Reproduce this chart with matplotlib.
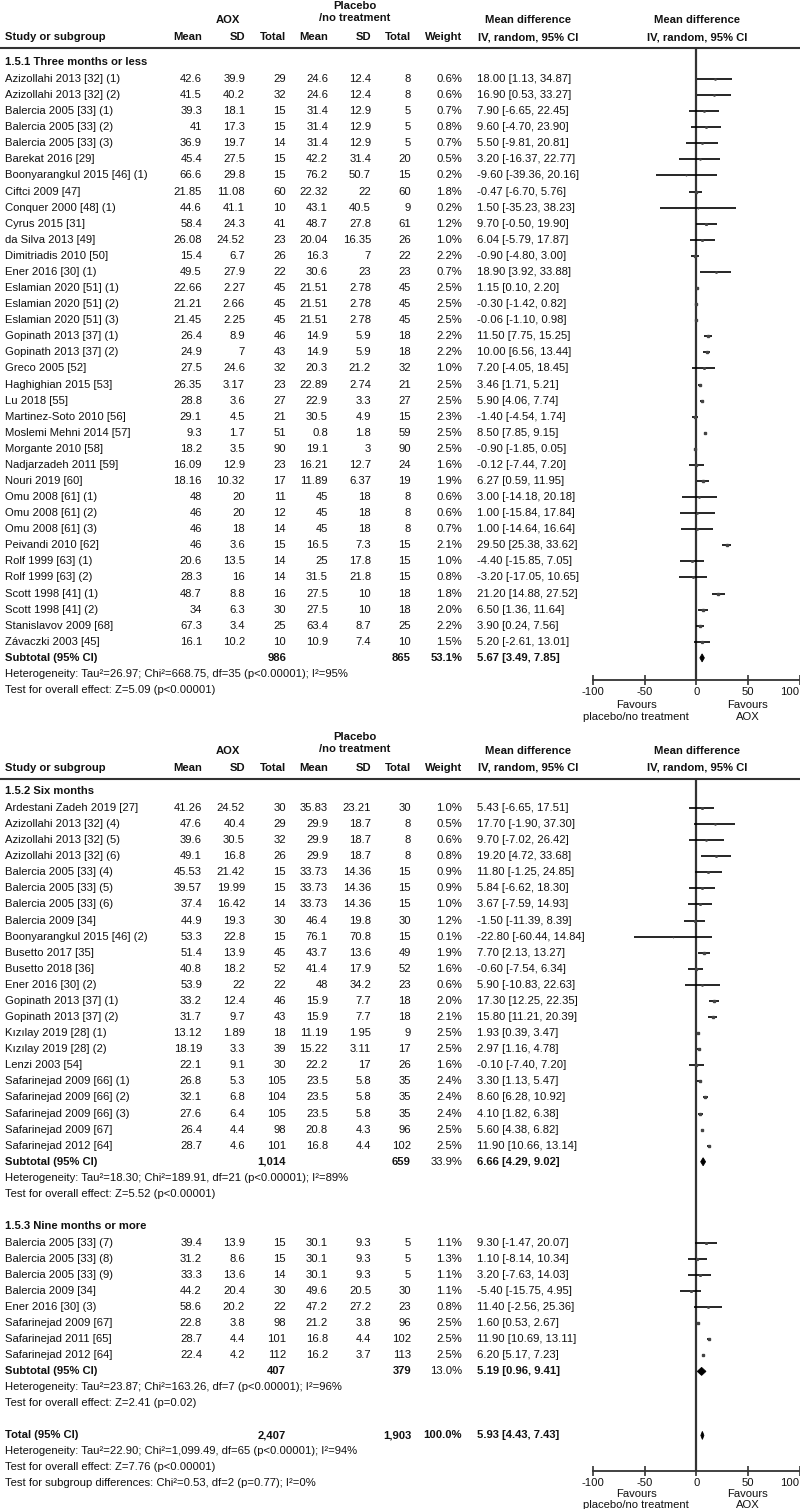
import matplotlib
matplotlib.use("Agg")
import matplotlib.pyplot as plt
from matplotlib.patches import Polygon
from matplotlib.transforms import blended_transform_factory

plt.rcParams['font.family'] = ['Liberation Sans', 'DejaVu Sans']
plt.rcParams['axes.unicode_minus'] = False

# ---- study level data (AOX vs placebo/no treatment) ----
study = [
    "Azizollahi 2013 [32] (1)", "Azizollahi 2013 [32] (2)", "Balercia 2005 [33] (1)",
    "Balercia 2005 [33] (2)", "Balercia 2005 [33] (3)", "Barekat 2016 [29]",
    "Boonyarangkul 2015 [46] (1)", "Ciftci 2009 [47]", "Conquer 2000 [48] (1)",
    "Cyrus 2015 [31]", "da Silva 2013 [49]", "Dimitriadis 2010 [50]", "Ener 2016 [30] (1)",
    "Eslamian 2020 [51] (1)", "Eslamian 2020 [51] (2)", "Eslamian 2020 [51] (3)",
    "Gopinath 2013 [37] (1)", "Gopinath 2013 [37] (2)", "Greco 2005 [52]",
    "Haghighian 2015 [53]", "Lu 2018 [55]", "Martinez-Soto 2010 [56]",
    "Moslemi Mehni 2014 [57]", "Morgante 2010 [58]", "Nadjarzadeh 2011 [59]",
    "Nouri 2019 [60]", "Omu 2008 [61] (1)", "Omu 2008 [61] (2)", "Omu 2008 [61] (3)",
    "Peivandi 2010 [62]", "Rolf 1999 [63] (1)", "Rolf 1999 [63] (2)",
    "Scott 1998 [41] (1)", "Scott 1998 [41] (2)", "Stanislavov 2009 [68]",
    "Závaczki 2003 [45]",
    "Ardestani Zadeh 2019 [27]", "Azizollahi 2013 [32] (4)", "Azizollahi 2013 [32] (5)",
    "Azizollahi 2013 [32] (6)", "Balercia 2005 [33] (4)", "Balercia 2005 [33] (5)",
    "Balercia 2005 [33] (6)", "Balercia 2009 [34]", "Boonyarangkul 2015 [46] (2)",
    "Busetto 2017 [35]", "Busetto 2018 [36]", "Ener 2016 [30] (2)",
    "Gopinath 2013 [37] (1)", "Gopinath 2013 [37] (2)", "Kızılay 2019 [28] (1)",
    "Kızılay 2019 [28] (2)", "Lenzi 2003 [54]", "Safarinejad 2009 [66] (1)",
    "Safarinejad 2009 [66] (2)", "Safarinejad 2009 [66] (3)", "Safarinejad 2009 [67]",
    "Safarinejad 2012 [64]",
    "Balercia 2005 [33] (7)", "Balercia 2005 [33] (8)", "Balercia 2005 [33] (9)",
    "Balercia 2009 [34]", "Ener 2016 [30] (3)", "Safarinejad 2009 [67]",
    "Safarinejad 2011 [65]", "Safarinejad 2012 [64]",
]
group = [0] * 36 + [1] * 22 + [2] * 8

aox_mean = [42.6, 41.5, 39.3, 41, 36.9, 45.4, 66.6, 21.85, 44.6, 58.4, 26.08, 15.4, 49.5,
            22.66, 21.21, 21.45, 26.4, 24.9, 27.5, 26.35, 28.8, 29.1, 9.3, 18.2, 16.09,
            18.16, 48, 46, 46, 46, 20.6, 28.3, 48.7, 34, 67.3, 16.1,
            41.26, 47.6, 39.6, 49.1, 45.53, 39.57, 37.4, 44.9, 53.3, 51.4, 40.8, 53.9,
            33.2, 31.7, 13.12, 18.19, 22.1, 26.8, 32.1, 27.6, 26.4, 28.7,
            39.4, 31.2, 33.3, 44.2, 58.6, 22.8, 28.7, 22.4]
aox_sd = [39.9, 40.2, 18.1, 17.3, 19.7, 27.5, 29.8, 11.08, 41.1, 24.3, 24.52, 6.7, 27.9,
          2.27, 2.66, 2.25, 8.9, 7, 24.6, 3.17, 3.6, 4.5, 1.7, 3.5, 12.9,
          10.32, 20, 20, 18, 3.6, 13.5, 16, 8.8, 6.3, 3.4, 10.2,
          24.52, 40.4, 30.5, 16.8, 21.42, 19.99, 16.42, 19.3, 22.8, 13.9, 18.2, 22,
          12.4, 9.7, 1.89, 3.3, 9.1, 5.3, 6.8, 6.4, 4.4, 4.6,
          13.9, 8.6, 13.6, 20.4, 20.2, 3.8, 4.4, 4.2]
aox_n = [29, 32, 15, 15, 14, 15, 15, 60, 10, 41, 23, 26, 22, 45, 45, 45, 46, 43, 32, 23,
         27, 21, 51, 90, 23, 17, 11, 12, 14, 15, 14, 14, 16, 30, 25, 10,
         30, 29, 32, 26, 15, 15, 14, 30, 15, 45, 52, 22, 46, 43, 18, 39, 30, 105, 104,
         105, 98, 101,
         15, 15, 14, 30, 22, 98, 101, 112]
ctl_mean = [24.6, 24.6, 31.4, 31.4, 31.4, 42.2, 76.2, 22.32, 43.1, 48.7, 20.04, 16.3, 30.6,
            21.51, 21.51, 21.51, 14.9, 14.9, 20.3, 22.89, 22.9, 30.5, 0.8, 19.1, 16.21,
            11.89, 45, 45, 45, 16.5, 25, 31.5, 27.5, 27.5, 63.4, 10.9,
            35.83, 29.9, 29.9, 29.9, 33.73, 33.73, 33.73, 46.4, 76.1, 43.7, 41.4, 48,
            15.9, 15.9, 11.19, 15.22, 22.2, 23.5, 23.5, 23.5, 20.8, 16.8,
            30.1, 30.1, 30.1, 49.6, 47.2, 21.2, 16.8, 16.2]
ctl_sd = [12.4, 12.4, 12.9, 12.9, 12.9, 31.4, 50.7, 22, 40.5, 27.8, 16.35, 7, 23,
          2.78, 2.78, 2.78, 5.9, 5.9, 21.2, 2.74, 3.3, 4.9, 1.8, 3, 12.7,
          6.37, 18, 18, 18, 7.3, 17.8, 21.8, 10, 10, 8.7, 7.4,
          23.21, 18.7, 18.7, 18.7, 14.36, 14.36, 14.36, 19.8, 70.8, 13.6, 17.9, 34.2,
          7.7, 7.7, 1.95, 3.11, 17, 5.8, 5.8, 5.8, 4.3, 4.4,
          9.3, 9.3, 9.3, 20.5, 27.2, 3.8, 4.4, 3.7]
ctl_n = [8, 8, 5, 5, 5, 20, 15, 60, 9, 61, 26, 22, 23, 45, 45, 45, 18, 18, 32, 21,
         27, 15, 59, 90, 24, 19, 8, 8, 8, 15, 15, 15, 18, 18, 25, 10,
         30, 8, 8, 8, 15, 15, 15, 30, 15, 49, 52, 23, 18, 18, 9, 17, 26, 35, 35, 35, 96, 102,
         5, 5, 5, 30, 23, 96, 102, 113]
weight = [0.6, 0.6, 0.7, 0.8, 0.7, 0.5, 0.2, 1.8, 0.2, 1.2, 1.0, 2.2, 0.7, 2.5, 2.5, 2.5,
          2.2, 2.2, 1.0, 2.5, 2.5, 2.3, 2.5, 2.5, 1.6, 1.9, 0.6, 0.6, 0.7, 2.1, 1.0, 0.8,
          1.8, 2.0, 2.2, 1.5,
          1.0, 0.5, 0.6, 0.8, 0.9, 0.9, 1.0, 1.2, 0.1, 1.9, 1.6, 0.6, 2.0, 2.1, 2.5, 2.5,
          1.6, 2.4, 2.4, 2.4, 2.5, 2.5,
          1.1, 1.3, 1.1, 1.1, 0.8, 2.5, 2.5, 2.5]
md = [18.00, 16.90, 7.90, 9.60, 5.50, 3.20, -9.60, -0.47, 1.50, 9.70, 6.04, -0.90, 18.90,
      1.15, -0.30, -0.06, 11.50, 10.00, 7.20, 3.46, 5.90, -1.40, 8.50, -0.90, -0.12,
      6.27, 3.00, 1.00, 1.00, 29.50, -4.40, -3.20, 21.20, 6.50, 3.90, 5.20,
      5.43, 17.70, 9.70, 19.20, 11.80, 5.84, 3.67, -1.50, -22.80, 7.70, -0.60, 5.90,
      17.30, 15.80, 1.93, 2.97, -0.10, 3.30, 8.60, 4.10, 5.60, 11.90,
      9.30, 1.10, 3.20, -5.40, 11.40, 1.60, 11.90, 6.20]
ci_lo = [1.13, 0.53, -6.65, -4.70, -9.81, -16.37, -39.36, -6.70, -35.23, -0.50, -5.79, -4.80,
         3.92, 0.10, -1.42, -1.10, 7.75, 6.56, -4.05, 1.71, 4.06, -4.54, 7.85, -1.85, -7.44,
         0.59, -14.18, -15.84, -14.64, 25.38, -15.85, -17.05, 14.88, 1.36, 0.24, -2.61,
         -6.65, -1.90, -7.02, 4.72, -1.25, -6.62, -7.59, -11.39, -60.44, 2.13, -7.54,
         -10.83, 12.25, 11.21, 0.39, 1.16, -7.40, 1.13, 6.28, 1.82, 4.38, 10.66,
         -1.47, -8.14, -7.63, -15.75, -2.56, 0.53, 10.69, 5.17]
ci_hi = [34.87, 33.27, 22.45, 23.90, 20.81, 22.77, 20.16, 5.76, 38.23, 19.90, 17.87, 3.00,
         33.88, 2.20, 0.82, 0.98, 15.25, 13.44, 18.45, 5.21, 7.74, 1.74, 9.15, 0.05, 7.20,
         11.95, 20.18, 17.84, 16.64, 33.62, 7.05, 10.65, 27.52, 11.64, 7.56, 13.01,
         17.51, 37.30, 26.42, 33.68, 24.85, 18.30, 14.93, 8.39, 14.84, 13.27, 6.34, 22.63,
         22.35, 20.39, 3.47, 4.78, 7.20, 5.47, 10.92, 6.38, 6.82, 13.14,
         20.07, 10.34, 14.03, 4.95, 25.36, 2.67, 13.11, 7.23]

# ---- subgroup / overall results ----
sub_title = ["1.5.1 Three months or less", "1.5.2 Six months", "1.5.3 Nine months or more"]
sub_n_aox = ["986", "1,014", "407"]
sub_n_ctl = ["865", "659", "379"]
sub_weight = [53.1, 33.9, 13.0]
sub_md = [5.67, 6.66, 5.19]
sub_lo = [3.49, 4.29, 0.96]
sub_hi = [7.85, 9.02, 9.41]
sub_het = ["Heterogeneity: Tau²=26.97; Chi²=668.75, df=35 (p<0.00001); I²=95%",
           "Heterogeneity: Tau²=18.30; Chi²=189.91, df=21 (p<0.00001); I²=89%",
           "Heterogeneity: Tau²=23.87; Chi²=163.26, df=7 (p<0.00001); I²=96%"]
sub_test = ["Test for overall effect: Z=5.09 (p<0.00001)",
            "Test for overall effect: Z=5.52 (p<0.00001)",
            "Test for overall effect: Z=2.41 (p=0.02)"]
total_n = ["2,407", "1,903"]
total_weight = 100.0
total_md, total_lo, total_hi = 5.93, 4.43, 7.43
total_notes = ["Heterogeneity: Tau²=22.90; Chi²=1,099.49, df=65 (p<0.00001); I²=94%",
               "Test for overall effect: Z=7.76 (p<0.00001)",
               "Test for subgroup differences: Chi²=0.53, df=2 (p=0.77); I²=0%"]
ticks = [-100, -50, 0, 50, 100]

# ---- layout (pixels) ----
W, H = 800, 1509
FS = 8.1
FS_NOTE = 8.1
STEP = 16.08
TXT = '#111111'
LINE = '#333333'
COL_R = [202, 245, 286, 328, 371, 411, 462]
CI_X = 477
FX0, FX1 = 593, 799.5

fig = plt.figure(figsize=(W / 100, H / 100), dpi=100)
bg = fig.add_axes([0, 0, 1, 1])
bg.set_xlim(0, W)
bg.set_ylim(H, 0)
bg.axis('off')


def txt(x, y, s, ha='left', bold=False, size=FS):
    bg.text(x, y, s, ha=ha, va='center', fontsize=size, color=TXT,
            fontweight='bold' if bold else 'normal')


def header(line_y):
    txt(355, line_y - 42, "Placebo", 'center', True)
    txt(355, line_y - 30, "/no treatment", 'center', True)
    txt(228, line_y - 28, "AOX", 'center', True)
    txt(528, line_y - 28, "Mean difference", 'center', True)
    txt(697, line_y - 28, "Mean difference", 'center', True)
    hy = line_y - 11
    txt(5, hy, "Study or subgroup", bold=True)
    for x, s in zip(COL_R, ["Mean", "SD", "Total", "Mean", "SD", "Total", "Weight"]):
        txt(x, hy, s, 'right', True)
    txt(528, hy, "IV, random, 95% CI", 'center', True)
    txt(697, hy, "IV, random, 95% CI", 'center', True)
    bg.plot([0, W], [line_y, line_y], color=LINE, lw=1.5)


def forest(top, bottom, off1, off2):
    ax = fig.add_axes([FX0 / W, 1 - bottom / H, (FX1 - FX0) / W, (bottom - top) / H])
    ax.patch.set_alpha(0)
    ax.set_xlim(-100, 100)
    ax.set_ylim(bottom, top)
    for s in ['top', 'left', 'right']:
        ax.spines[s].set_visible(False)
    ax.spines['bottom'].set_color(LINE)
    ax.spines['bottom'].set_linewidth(1.3)
    ax.set_yticks([])
    ax.set_xticks(ticks, [str(t) for t in ticks])
    ax.tick_params(axis='x', direction='inout', length=7, width=1.2, color=LINE,
                   labelsize=FS, labelcolor=TXT, pad=1.5)
    ax.get_xticklabels()[-1].set_horizontalalignment('right')
    ax.axvline(0, color=LINE, lw=1.6)
    tr = blended_transform_factory(ax.transData, bg.transData)
    for x, s1, s2 in [(-58, "Favours", "placebo/no treatment"), (50, "Favours", "AOX")]:
        bg.text(x, bottom + off1, s1, transform=tr, ha='center', va='center',
                fontsize=FS, color=TXT)
        bg.text(x, bottom + off2, s2, transform=tr, ha='center', va='center',
                fontsize=FS, color=TXT)
    return ax


def fmt(v):
    return f"{v:g}"


def study_row(ax, i, y):
    txt(5, y, study[i])
    vals = [fmt(aox_mean[i]), fmt(aox_sd[i]), str(aox_n[i]), fmt(ctl_mean[i]),
            fmt(ctl_sd[i]), str(ctl_n[i]), f"{weight[i]:.1f}%"]
    for x, s in zip(COL_R, vals):
        txt(x, y, s, 'right')
    txt(CI_X, y, f"{md[i]:.2f} [{ci_lo[i]:.2f}, {ci_hi[i]:.2f}]")
    ax.plot([ci_lo[i], ci_hi[i]], [y, y], color='black', lw=1.2, solid_capstyle='butt')
    ax.plot([md[i]], [y], marker='s', color='#444444', ms=1.1 * weight[i] ** 0.5, lw=0)


def pooled_row(ax, y, label, n1, n2, w, m, lo, hi, bold_w):
    txt(5, y, label, bold=True)
    txt(COL_R[2], y, n1, 'right', True)
    txt(COL_R[5], y, n2, 'right', True)
    txt(COL_R[6], y, f"{w:.1f}%", 'right', bold_w)
    txt(CI_X, y, f"{m:.2f} [{lo:.2f}, {hi:.2f}]", bold=True)
    ax.add_patch(Polygon([(lo, y), (m, y - 4), (hi, y), (m, y + 4)], closed=True,
                         facecolor='black', edgecolor='black', lw=0.6))


def subgroup(ax, g, title_y, bold_w):
    txt(5, title_y, sub_title[g], bold=True)
    y = title_y + 17
    idx = [i for i in range(len(study)) if group[i] == g]
    for k, i in enumerate(idx):
        study_row(ax, i, y + k * STEP)
    y = y + len(idx) * STEP
    pooled_row(ax, y, "Subtotal (95% CI)", sub_n_aox[g], sub_n_ctl[g], sub_weight[g],
               sub_md[g], sub_lo[g], sub_hi[g], bold_w)
    txt(5, y + 16, sub_het[g], size=FS_NOTE)
    txt(5, y + 32, sub_test[g], size=FS_NOTE)
    return y + 32


# ---- panel 1 ----
header(48)
ax1 = forest(48, 680, 25, 37)
subgroup(ax1, 0, 62, True)

# ---- panel 2 ----
header(779)
ax2 = forest(779, 1471, 23, 34)
end = subgroup(ax2, 1, 791, False)
end = subgroup(ax2, 2, end + 32, False)
ty = end + 32
pooled_row(ax2, ty, "Total (95% CI)", total_n[0], total_n[1], total_weight,
           total_md, total_lo, total_hi, True)
for k, s in enumerate(total_notes):
    txt(5, ty + 16 * (k + 1), s, size=FS_NOTE)

fig.savefig("out.png", dpi=100)
